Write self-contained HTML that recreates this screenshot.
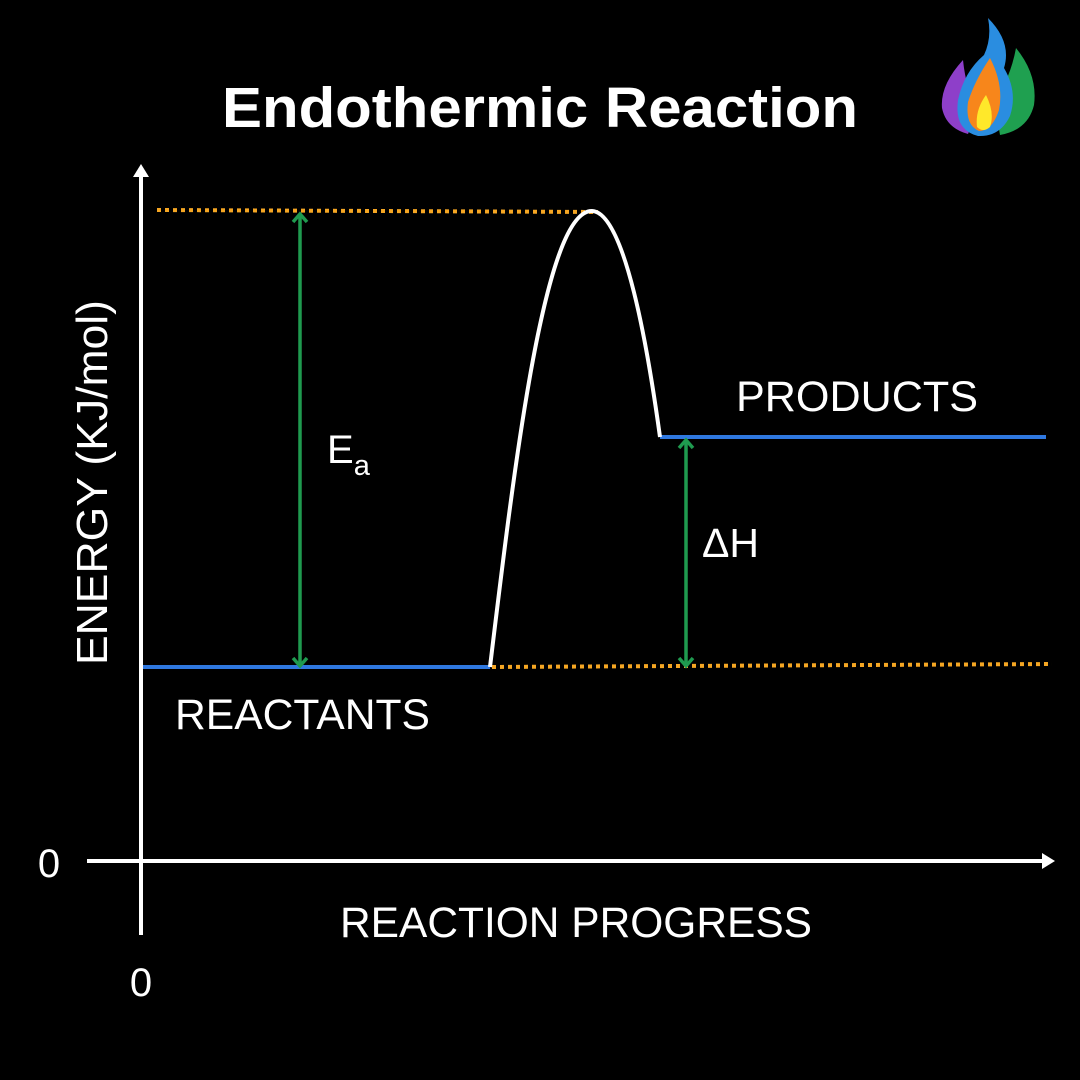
<!DOCTYPE html>
<html><head><meta charset="utf-8"><style>
body{margin:0;background:#000;width:1080px;height:1080px;overflow:hidden}
svg{display:block}
text{font-family:"Liberation Sans",sans-serif;fill:#fff}
</style></head><body>
<svg width="1080" height="1080" viewBox="0 0 1080 1080">
<rect width="1080" height="1080" fill="#000"/>
<text x="540" y="127" text-anchor="middle" font-size="57" font-weight="bold" textLength="636" lengthAdjust="spacingAndGlyphs">Endothermic Reaction</text>
<!-- logo -->
<g>
<path d="M963 60 Q940 85 942 108 Q946 128 968 134 L978 110 Q966 90 963 60Z" fill="#8e3fc9"/>
<path d="M1016 48 Q1038 75 1034 105 Q1028 130 1000 135 L994 100 Q1010 80 1016 48Z" fill="#1fa050"/>
<path d="M988 18 Q1012 42 1004 68 Q1018 92 1010 116 Q1000 137 978 136 Q954 130 958 100 Q964 72 984 55 Q992 38 988 18Z" fill="#2a8de0"/>
<path d="M990 58 Q1004 85 999 110 Q992 131 979 131 Q965 125 968 102 Q975 80 990 58Z" fill="#f7861b"/>
<path d="M986 95 Q995 113 990 127 Q983 133 977 127 Q975 110 986 95Z" fill="#ffe82a"/>
</g>
<!-- axes -->
<line x1="141" y1="935" x2="141" y2="172" stroke="#fff" stroke-width="4"/>
<polygon points="133,177 141,164 149,177" fill="#fff"/>
<line x1="87" y1="861" x2="1047" y2="861" stroke="#fff" stroke-width="4"/>
<polygon points="1042,853 1055,861 1042,869" fill="#fff"/>
<!-- dotted -->
<line x1="157" y1="210" x2="598" y2="212" stroke="#f5a623" stroke-width="4" stroke-dasharray="4,4"/>
<line x1="492" y1="667" x2="1052" y2="664" stroke="#f5a623" stroke-width="4" stroke-dasharray="4,4"/>
<!-- levels -->
<line x1="143" y1="667" x2="490" y2="667" stroke="#2f78e0" stroke-width="4"/>
<line x1="660" y1="437" x2="1046" y2="437" stroke="#2f78e0" stroke-width="4"/>
<!-- curve -->
<path d="M490 667 C515 460 545 210 592 211 C625 212 648 350 660 437" fill="none" stroke="#fff" stroke-width="4"/>
<!-- arrows -->
<g stroke="#1f9a4f" stroke-width="3.5" fill="none">
<line x1="300" y1="215" x2="300" y2="665"/>
<polyline points="293,222 300,214 307,222"/>
<polyline points="293,658 300,666 307,658"/>
<line x1="686" y1="441" x2="686" y2="665"/>
<polyline points="679,448 686,440 693,448"/>
<polyline points="679,658 686,666 693,658"/>
</g>
<text x="327" y="463" font-size="40">E<tspan font-size="29" dy="12">a</tspan></text>
<text x="702" y="557" font-size="41">ΔH</text>
<text x="736" y="411" font-size="43" textLength="242" lengthAdjust="spacingAndGlyphs">PRODUCTS</text>
<text x="175" y="729" font-size="43" textLength="255" lengthAdjust="spacingAndGlyphs">REACTANTS</text>
<text x="340" y="937" font-size="43" textLength="472" lengthAdjust="spacingAndGlyphs">REACTION PROGRESS</text>
<text x="0" y="0" font-size="44" transform="translate(107 665) rotate(-90)" textLength="365" lengthAdjust="spacingAndGlyphs">ENERGY (KJ/mol)</text>
<text x="49" y="877" font-size="40" text-anchor="middle">0</text>
<text x="141" y="996" font-size="40" text-anchor="middle">0</text>
</svg>
</body></html>
